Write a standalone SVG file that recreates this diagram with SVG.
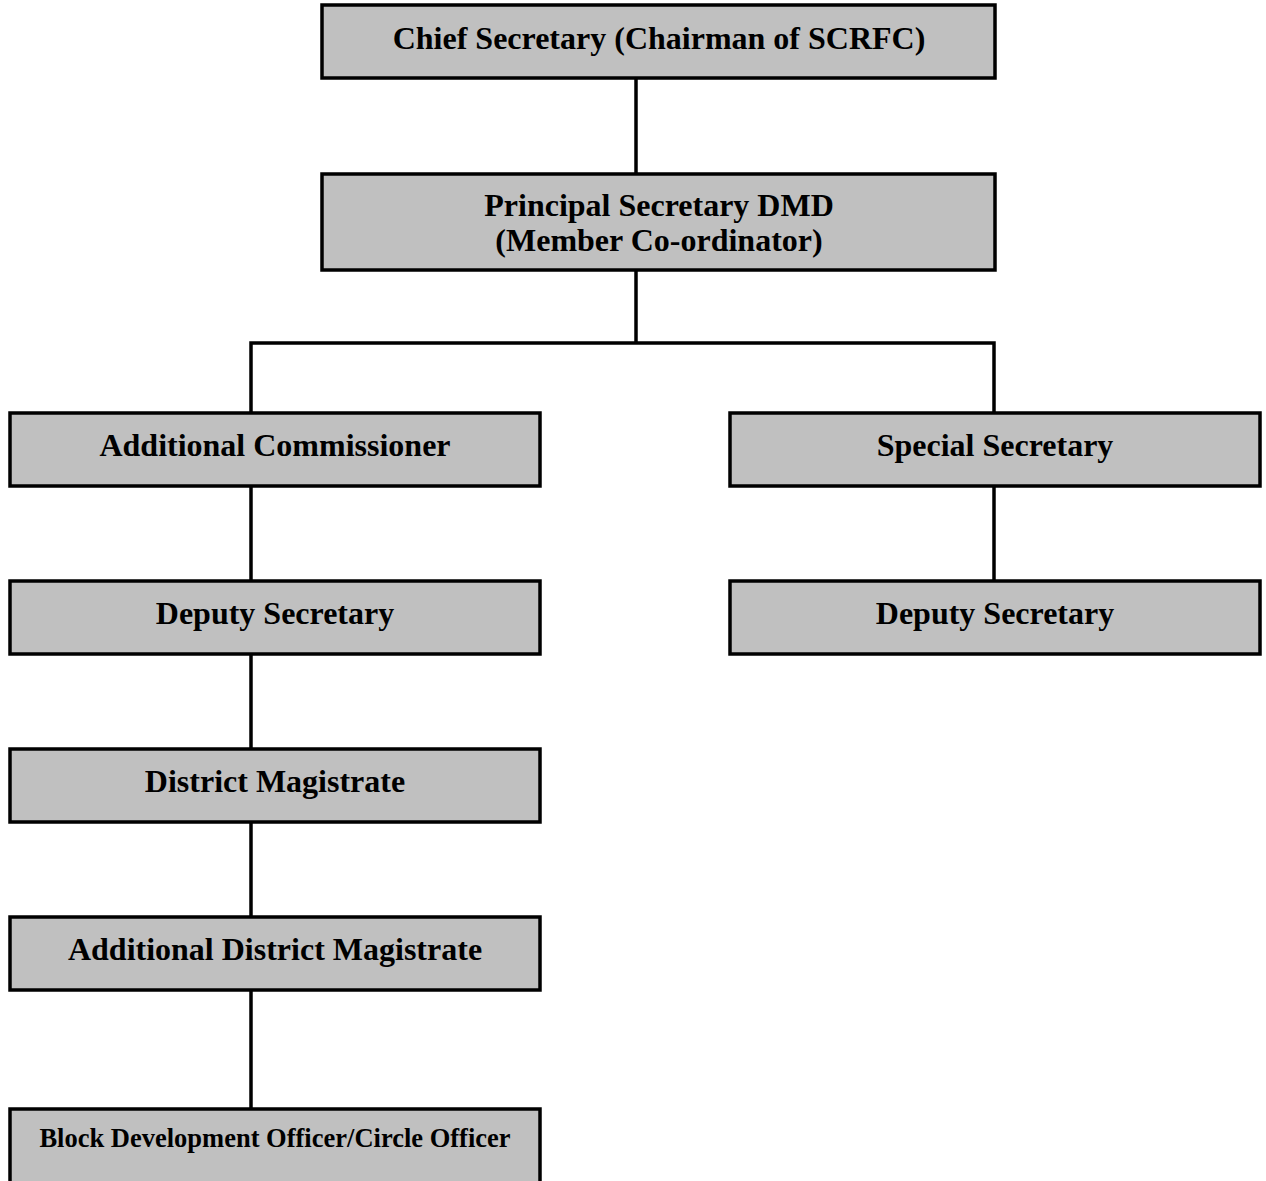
<svg xmlns="http://www.w3.org/2000/svg" width="1266" height="1181" viewBox="0 0 1266 1181">
<style>
.box{fill:#c0c0c0;stroke:#000;stroke-width:3.5}
.t{font-family:"Liberation Serif","Times New Roman",serif;font-weight:bold;font-size:32px;text-anchor:middle;fill:#000}
.s{font-size:26.5px}
.c{stroke:#000;stroke-width:3.5;fill:none}
</style>
<rect width="1266" height="1181" fill="#fff"/>
<g id="connectors">
<line class="c" x1="636" y1="78" x2="636" y2="174"/>
<line class="c" x1="636" y1="270" x2="636" y2="343"/>
<polyline class="c" points="251,413 251,343 994,343 994,413"/>
<line class="c" x1="251" y1="486" x2="251" y2="581"/>
<line class="c" x1="994" y1="486" x2="994" y2="581"/>
<line class="c" x1="251" y1="654" x2="251" y2="749"/>
<line class="c" x1="251" y1="822" x2="251" y2="917"/>
<line class="c" x1="251" y1="990" x2="251" y2="1109"/>
</g>
<g id="chief"><rect class="box" x="322" y="5" width="673" height="73"/><text class="t" x="659" y="49">Chief Secretary (Chairman of SCRFC)</text></g>
<g id="principal"><rect class="box" x="322" y="174" width="673" height="96"/><text class="t" x="659" y="216">Principal Secretary DMD</text><text class="t" x="659" y="251">(Member Co-ordinator)</text></g>
<g id="addl-commissioner"><rect class="box" x="10" y="413" width="530" height="73"/><text class="t" x="275" y="456">Additional Commissioner</text></g>
<g id="special-secretary"><rect class="box" x="730" y="413" width="530" height="73"/><text class="t" x="995" y="456">Special Secretary</text></g>
<g id="deputy-left"><rect class="box" x="10" y="581" width="530" height="73"/><text class="t" x="275" y="624">Deputy Secretary</text></g>
<g id="deputy-right"><rect class="box" x="730" y="581" width="530" height="73"/><text class="t" x="995" y="624">Deputy Secretary</text></g>
<g id="district-magistrate"><rect class="box" x="10" y="749" width="530" height="73"/><text class="t" x="275" y="792">District Magistrate</text></g>
<g id="addl-district-magistrate"><rect class="box" x="10" y="917" width="530" height="73"/><text class="t" x="275" y="960">Additional District Magistrate</text></g>
<g id="bdo"><rect class="box" x="10" y="1109" width="530" height="80"/><text class="t s" x="275" y="1147">Block Development Officer/Circle Officer</text></g>
</svg>
